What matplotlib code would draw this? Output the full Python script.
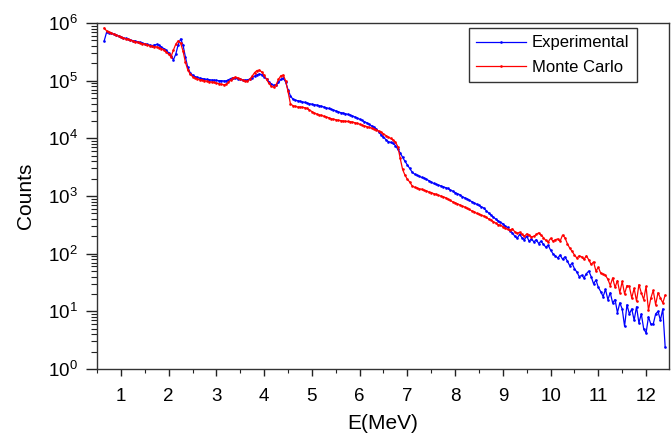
import numpy as np
import matplotlib
matplotlib.use('Agg')
import matplotlib.pyplot as plt
from matplotlib.ticker import MultipleLocator, LogLocator

plt.rcParams['font.family'] = ['Liberation Sans', 'DejaVu Sans']

# energy channels (MeV), 0.05 MeV bins
energia = np.round(np.arange(0.65, 12.401, 0.05), 2)

# Experimental
exp_counts = [
    4.9e5, 6.9e5, 6.8e5, 6.6e5, 6.4e5, 6.2e5, 5.95e5, 5.75e5, 5.55e5, 5.4e5,
    5.25e5, 5.1e5, 4.95e5, 4.85e5, 4.75e5, 4.6e5, 4.5e5, 4.35e5, 4.25e5, 4.15e5,
    4.05e5, 4.15e5, 4.25e5, 4.1e5, 3.85e5, 3.6e5, 3.35e5, 3.05e5, 2.7e5, 2.3e5,
    2.9e5, 4.2e5, 5.3e5, 4.2e5, 2.6e5, 1.7e5, 1.38e5, 1.25e5, 1.18e5, 1.14e5,
    1.11e5, 1.09e5, 1.07e5, 1.05e5, 1.04e5, 1.03e5, 1.02e5, 1.01e5, 1.0e5, 1.0e5,
    9.9e4, 9.9e4, 1.03e5, 1.09e5, 1.13e5, 1.12e5, 1.08e5, 1.05e5, 1.03e5, 1.02e5,
    1.03e5, 1.07e5, 1.13e5, 1.2e5, 1.27e5, 1.3e5, 1.27e5, 1.18e5, 1.07e5, 9.6e4,
    8.8e4, 8.3e4, 8.3e4, 9.3e4, 1.05e5, 1.1e5, 9.5e4, 7.0e4, 5.5e4, 4.8e4,
    4.6e4, 4.5e4, 4.4e4, 4.3e4, 4.2e4, 4.1e4, 4.0e4, 3.9e4, 3.85e4, 3.78e4,
    3.7e4, 3.6e4, 3.5e4, 3.4e4, 3.3e4, 3.2e4, 3.1e4, 3.0e4, 2.9e4, 2.8e4,
    2.75e4, 2.68e4, 2.6e4, 2.54e4, 2.45e4, 2.35e4, 2.25e4, 2.15e4, 2.05e4, 1.95e4,
    1.86e4, 1.75e4, 1.65e4, 1.57e4, 1.45e4, 1.3e4, 1.15e4, 1.05e4, 9.5e3, 8.8e3,
    8.5e3, 8.2e3, 7.5e3, 6.5e3, 5.6e3, 4.7e3, 4.0e3, 3.45e3, 3.0e3, 2.6e3,
    2.4e3, 2.3e3, 2.2e3, 2.1e3, 2.05e3, 1.95e3, 1.85e3, 1.75e3, 1.65e3, 1.6e3,
    1.55e3, 1.5e3, 1.45e3, 1.4e3, 1.35e3, 1.27e3, 1.22e3, 1.15e3, 1.1e3, 1.05e3,
    980, 930, 890, 840, 800, 760, 720, 690, 650, 620,
    560, 510, 470, 430, 400, 370, 350, 330, 300, 285,
    250, 230, 200, 185, 215, 190, 175, 200, 165, 180,
    160, 175, 150, 165, 145, 130, 140, 115, 100, 92,
    84, 95, 80, 88, 75, 62, 68, 55, 48, 40,
    42, 38, 45, 50, 40, 30, 35, 26, 22, 18,
    24, 16, 21, 14, 16, 9.5, 14, 11, 5.5, 13,
    9, 11, 7, 12, 6.3, 9, 5, 4.2, 8, 6,
    6, 9, 10, 7, 11, 2.4,
]

# Monte Carlo
mc_counts = [
    8.2e5, 7.3e5, 7.0e5, 6.7e5, 6.4e5, 6.2e5, 5.95e5, 5.7e5, 5.5e5, 5.35e5,
    5.2e5, 5.05e5, 4.9e5, 4.75e5, 4.65e5, 4.5e5, 4.4e5, 4.3e5, 4.2e5, 4.05e5,
    3.95e5, 3.9e5, 3.85e5, 3.75e5, 3.6e5, 3.4e5, 3.15e5, 2.85e5, 2.6e5, 3.4e5,
    4.3e5, 4.9e5, 4.5e5, 3.3e5, 2.1e5, 1.55e5, 1.3e5, 1.18e5, 1.12e5, 1.08e5,
    1.04e5, 1.02e5, 1.0e5, 9.8e4, 9.6e4, 9.5e4, 9.3e4, 9.1e4, 8.9e4, 8.7e4,
    8.5e4, 8.6e4, 9.3e4, 1.03e5, 1.12e5, 1.15e5, 1.12e5, 1.07e5, 1.02e5, 9.8e4,
    9.8e4, 1.06e5, 1.2e5, 1.38e5, 1.5e5, 1.52e5, 1.42e5, 1.25e5, 1.05e5, 9.0e4,
    8.0e4, 7.7e4, 8.5e4, 1.05e5, 1.22e5, 1.25e5, 1.0e5, 6.5e4, 4.0e4, 3.7e4,
    3.6e4, 3.5e4, 3.5e4, 3.45e4, 3.4e4, 3.3e4, 3.1e4, 2.9e4, 2.75e4, 2.65e4,
    2.55e4, 2.5e4, 2.42e4, 2.35e4, 2.28e4, 2.2e4, 2.15e4, 2.1e4, 2.06e4, 2.03e4,
    2.0e4, 1.98e4, 1.96e4, 1.95e4, 1.92e4, 1.87e4, 1.82e4, 1.76e4, 1.7e4, 1.65e4,
    1.6e4, 1.55e4, 1.5e4, 1.45e4, 1.4e4, 1.34e4, 1.28e4, 1.2e4, 1.12e4, 1.05e4,
    1.0e4, 9.4e3, 8.6e3, 7.2e3, 4.5e3, 2.9e3, 2.3e3, 1.95e3, 1.75e3, 1.5e3,
    1.42e3, 1.38e3, 1.33e3, 1.31e3, 1.25e3, 1.23e3, 1.17e3, 1.15e3, 1.1e3, 1.07e3,
    1.03e3, 1.0e3, 970, 935, 880, 840, 790, 765, 730, 700,
    670, 645, 610, 585, 550, 535, 500, 485, 465, 450,
    430, 400, 385, 360, 340, 320, 310, 295, 275, 265,
    255, 270, 240, 225, 235, 215, 200, 220, 210, 195,
    200, 215, 230, 210, 190, 170, 160, 185, 165, 175,
    180, 165, 210, 190, 150, 125, 110, 95, 84, 92,
    88, 80, 92, 78, 65, 72, 50, 58, 46, 44,
    42, 36, 28, 38, 26, 34, 21, 33, 20, 28,
    27, 17, 25, 15, 29, 21, 16, 27, 10.5, 17,
    23, 13, 21, 17, 14, 19,
]

fig = plt.figure(figsize=(6.71, 4.41), dpi=100)
ax = fig.add_axes([0.1446, 0.1633, 0.8524, 0.7845])

ax.plot(energia, exp_counts, color='blue', marker='o', markersize=1.9,
        markeredgewidth=0, linewidth=0.9, label='Experimental')
ax.plot(energia, mc_counts, color='red', marker='o', markersize=1.9,
        markeredgewidth=0, linewidth=0.9, label='Monte Carlo')

ax.set_yscale('log')
ax.set_ylim(1, 1e6)
ax.set_xlim(0.5, 12.48)

ax.xaxis.set_major_locator(MultipleLocator(1))
ax.xaxis.set_minor_locator(MultipleLocator(0.5))
ax.yaxis.set_major_locator(LogLocator(base=10, numticks=10))
ax.yaxis.set_minor_locator(LogLocator(base=10, subs=np.arange(2, 10), numticks=10))

ax.tick_params(which='both', direction='out', top=False, right=False,
               color='#222222', labelsize=13.5)
ax.tick_params(axis='x', which='major', length=5, width=1, pad=9)
ax.tick_params(axis='x', which='minor', length=3, width=0.8)
ax.tick_params(axis='y', which='major', length=8, width=1, pad=6)
ax.tick_params(axis='y', which='minor', length=4, width=0.8)
for s in ax.spines.values():
    s.set_color('#333333')
    s.set_linewidth(1)

ax.set_xlabel('E(MeV)', fontsize=15, labelpad=6)
ax.set_ylabel('Counts', fontsize=15, labelpad=9)

leg = ax.legend(loc='upper right', bbox_to_anchor=(0.944, 0.986),
                borderaxespad=0, fontsize=12, fancybox=False,
                edgecolor='#333333', framealpha=1, handlelength=3.0,
                handletextpad=0.35, borderpad=0.45, labelspacing=0.55)
leg.get_frame().set_linewidth(1)

fig.savefig('out.png', dpi=100)
